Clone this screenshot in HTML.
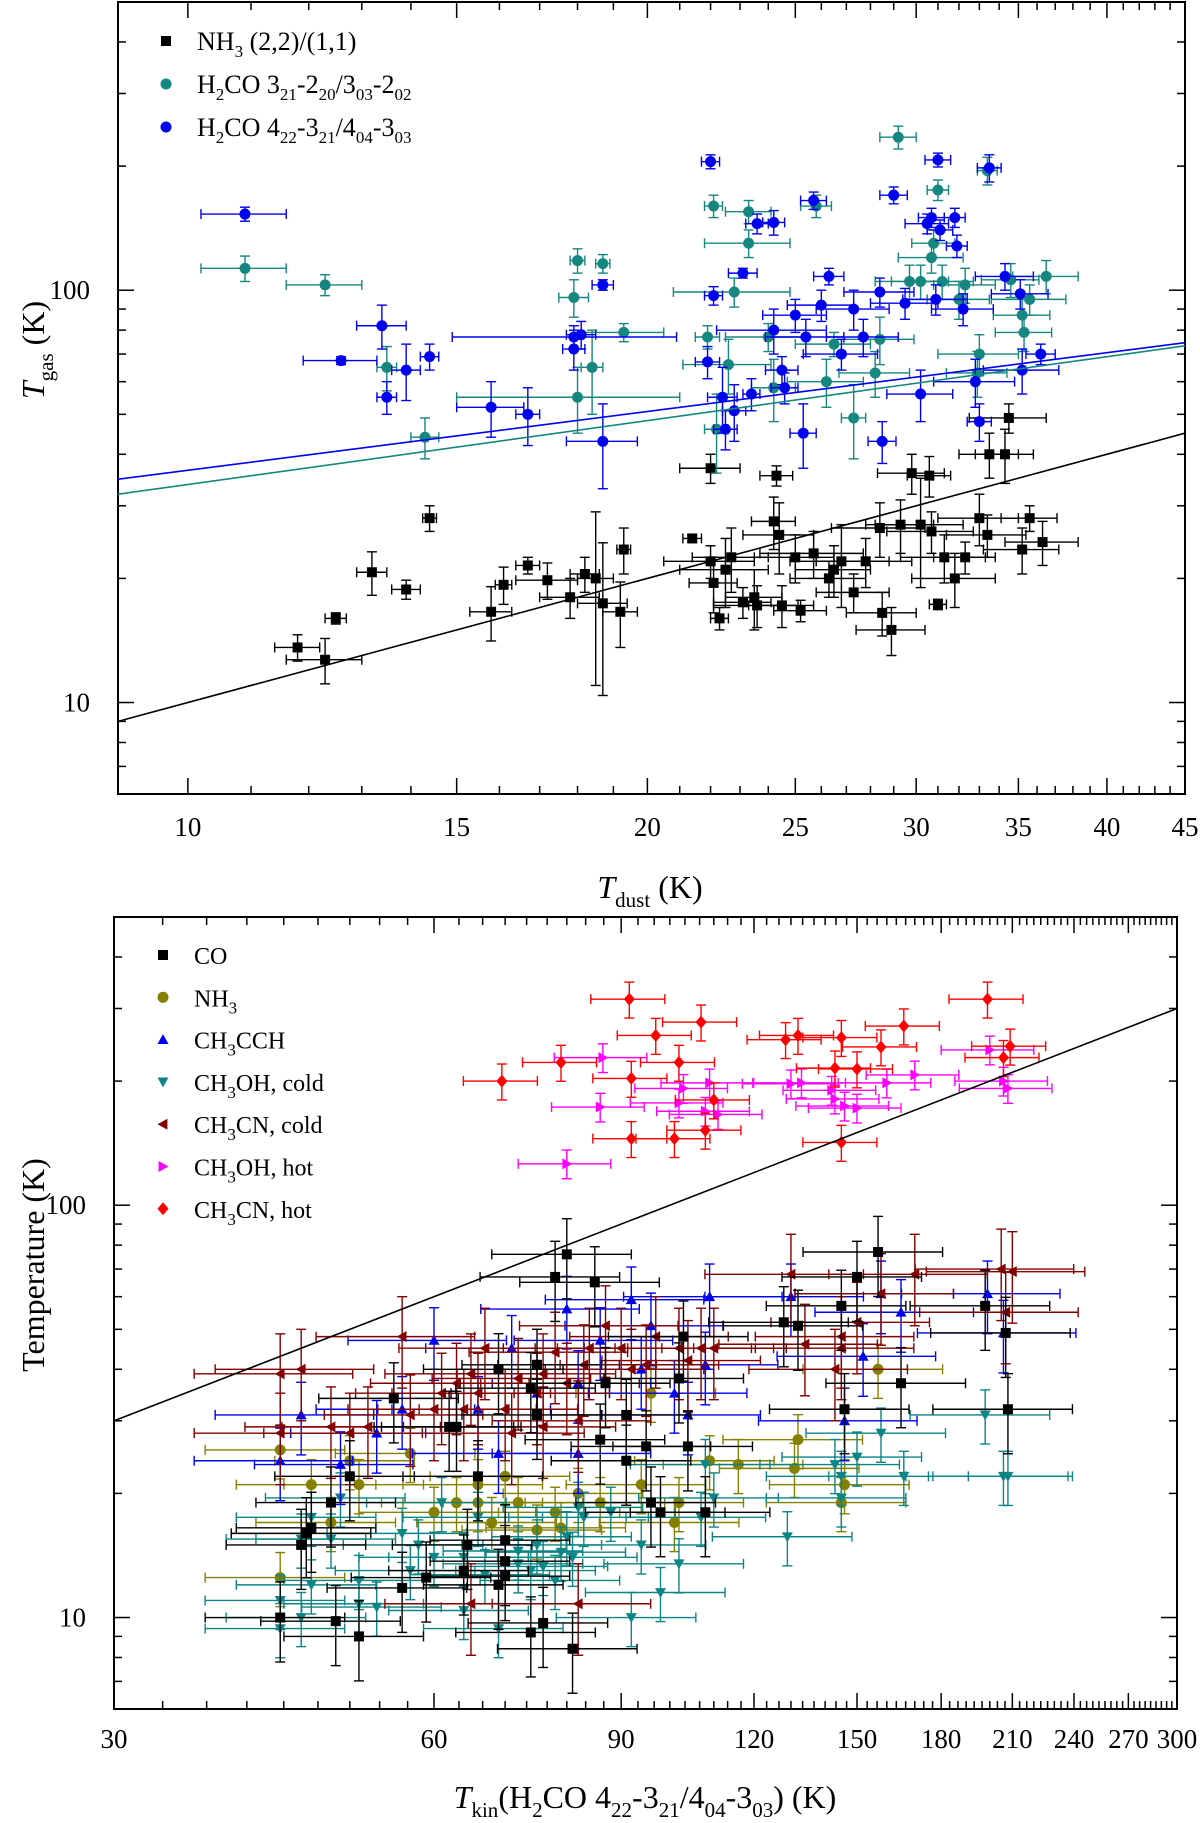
<!DOCTYPE html>
<html><head><meta charset="utf-8"><style>
html,body{margin:0;padding:0;background:#fff;}
svg{display:block;font-family:"Liberation Serif",serif;}
</style></head><body>
<svg id="fig" width="1200" height="1823" viewBox="0 0 1200 1823" xmlns="http://www.w3.org/2000/svg"></svg>
<script>
// ---------- TOP PANEL DATA: [Tdust, Tgas, xerr, yerr] ----------
const topNH3 = [[11.8,13.6,.4,1],[12.3,12.7,.7,1.6],[12.5,16,.2,.5],[13.2,20.7,.3,2.5],[13.9,18.8,.3,1],[14.4,28,.15,2],[15.8,16.6,.5,2.5],[16.1,19.3,.2,2],[16.7,21.5,.3,1],[17.2,19.8,.8,2],[17.8,18,.8,2],[18.2,20.5,.4,2],[18.5,20,.5,9],[18.7,17.4,.7,7],[19.2,16.6,.5,3],[19.3,23.5,.2,3],[21.4,25,.3,.5],[22.0,37,1,3],[22.0,22,1.5,2],[22.1,19.5,.8,3],[22.3,16,.3,1],[22.5,21,1.5,4],[22.7,22.5,1.3,4],[23.1,17.5,1,1.5],[23.5,18,1,3],[23.6,17.2,1.5,2],[24.3,35.5,.6,2],[24.2,27.5,.8,4],[24.4,25.5,1.3,5],[24.5,17.2,1.2,2],[25,22.5,1.5,3],[25.2,16.7,1,1],[25.7,23,2,3],[26.3,20,1.5,2],[26.5,21,1.5,3],[26.8,22,2,5],[27.3,18.5,1.5,2],[27.8,22,2,3],[28.4,26.5,2,4],[28.5,16.5,1.5,2],[28.9,15,1.5,2],[29.3,27,1.5,4],[29.8,36,1.5,4],[30.2,27,2,8],[30.6,35.5,1,4],[30.7,26,2,3],[31.0,17.3,.4,.5],[31.3,22.5,2,3],[31.8,20,2,3],[32.3,22.5,1.5,2],[33,28,2,4],[33.4,25.5,2,3],[33.5,40,1.5,5],[34.3,40,1.5,6],[34.5,49,2,4],[35.2,23.5,2,3],[35.6,28,1.5,2],[36.3,24.5,2,3]];
const topH2CO303 = [[10.9,113,.7,8],[12.3,103,.7,6],[13.5,65,.2,8],[14.3,44,.3,5],[17.9,96,.4,10],[18.0,118,.2,8],[18.7,116,.2,6],[18.0,55,3,10],[18.4,65,.3,15],[19.3,79,1.2,4],[21.9,77,.4,5],[22.1,160,.3,10],[22.2,46,.4,10],[22.6,66,1.5,10],[22.8,99,2,8],[23.3,155,.8,10],[23.3,130,1.5,10],[24.0,77,1.5,6],[24.2,58,.8,10],[25.8,160,.6,10],[26.2,60,1.5,8],[26.5,74,1.5,5],[27.3,49,.5,10],[28.2,63,1.5,8],[28.4,76,1.5,10],[29.2,235,.8,15],[29.7,105,1.5,10],[30.2,105,1.3,10],[30.7,120,1.5,10],[31.0,175,.5,10],[31.2,105,1.5,10],[32.0,95,1.5,10],[32.3,103,1.5,10],[32.9,63,1.5,8],[33.4,195,.5,15],[34.6,106,1.5,10],[35.2,87,1.5,8],[35.6,95,2,8],[35.3,79,1.5,8],[36.5,108,1.8,10],[33.0,70,2,8],[30.8,130,1,10]];
const topH2CO404 = [[10.9,153,.7,6],[12.6,67.5,.7,1.5],[13.4,82,.5,10],[13.5,55,.2,5],[13.9,64,.3,10],[14.4,69,.2,5],[15.8,52,.8,8],[16.7,50,.3,8],[17.9,72,.3,8],[17.9,77,3,5],[18.1,78,.4,6],[18.7,103,.3,3],[18.7,43,1,10],[21.9,67,.4,6],[22.1,97,.3,5],[22.0,205,.3,8],[22.4,55,.5,10],[22.5,46,.4,5],[22.8,51,.4,8],[23.1,110,.5,3],[23.4,56,.3,5],[23.6,145,.4,8],[24.2,146,.4,10],[24.2,80,2,10],[24.5,64,.6,5],[24.6,58,.5,5],[25,87,1.2,8],[25.3,45,.5,8],[25.4,77,1.5,8],[25.7,165,.5,8],[26.0,92,1.3,8],[26.3,108,.6,5],[26.8,70,1.5,6],[27.3,90,1.5,10],[27.7,77,1.5,8],[28.4,99,1.5,8],[28.5,43,.6,5],[29.0,170,.6,8],[29.5,93,1.5,8],[30.2,56,1.5,8],[30.7,150,.6,8],[30.9,95,1.5,8],[31.0,207,.6,8],[31.1,140,.6,8],[31.8,150,.5,8],[31.9,128,.5,8],[32.2,90,1.5,8],[32.8,60,2,8],[33.0,48,.6,5],[33.5,198,.6,15],[34.3,108,1.5,8],[35.1,98,1.5,8],[35.2,64,2,8],[36.2,70,.8,4],[30.5,145,1,8]];
const topFitX = [9, 45];
const topOneToOneY = [9, 45];
const topFit303Y = [32, 73.3];
const topFit404Y = [34.8, 74.6];
const topXTicks = [10,15,20,25,30,35,40,45];
const yTickLabels = [10,100];

// ---------- BOTTOM PANEL DATA: [Tkin(H2CO), T] ----------
const botCO = [[43,10],[48.5,9.8],[51,9],[45,15],[45.5,16],[46,16.5],[50,22],[48,19],[56,11.8],[59,12.5],[64,13],[64.5,15],[66,22],[69,12],[70,13.7],[70,15.4],[70,12.6],[74,9.2],[76,9.7],[81,8.4],[78,67],[80,76],[85,65],[87,37],[91,31],[95,26],[96,19],[98,18],[102,38],[103,48],[108,18],[69,40],[74,36],[75,41],[128,52],[132,51],[145,57],[146,32],[150,67],[157,77],[165,37],[198,57],[207,49],[208,32],[55,34],[62,29],[63,29],[75,31],[86,27],[91,24],[104,26]];
const botNH3 = [[43,25.5],[43,12.5],[46,21],[48,17],[50,24],[51,21],[57,25],[60,18],[63,19],[66,21],[66,19],[68,17],[70,22],[72,19],[75,16.3],[78,18],[79,16.5],[82,20],[86,19],[94,21],[96,35],[101,17],[102,19],[109,24],[131,23],[132,27],[145,19],[146,21],[157,40],[116,23.5]];
const botCH3CCH = [[43,24],[45,31],[49,23.5],[53,28],[56,32],[60,47],[66,32],[71,45],[75,35],[80,56],[82,37],[86,47],[92,59],[94,40],[96,51],[101,35],[104,31],[108,41],[109,60],[130,60],[146,30],[152,43],[158,61],[165,55],[199,61],[206,49],[82,25],[69,25]];
const botCH3OHcold = [[43,9.4],[43,11],[45,15.5],[45,10],[46,17.5],[48,15.5],[49,19.5],[51,10.8],[53,10.6],[56,16],[57,13],[58,15],[60,14],[64,14],[64,10.4],[66,17.5],[67,12.7],[69,9.4],[72,14.5],[72,13.5],[74,13],[75,15],[76,13.3],[78,12.3],[79,14.4],[80,15.7],[81,14],[82,18.5],[83,17.5],[88,18],[92,10],[94,15],[98,11.5],[102,13.5],[107,17.5],[108,23.5],[110,19.5],[129,15.7],[143,23.5],[145,22],[145,19.5],[150,24.5],[158,28],[166,22],[198,31],[206,22],[208,22],[61,19],[51,12.3],[46,12]];
const botCH3CNcold = [[43,39],[45,40],[43,28],[48,29],[50,28],[52,29],[56,48],[57,31],[60,32],[61,35],[63,37],[64,32],[65,39],[66,35],[67,45],[70,32],[71,28],[72,38],[75,35],[76,39],[76,29],[78,44],[80,37],[82,30],[83,41],[84,45],[87,51],[90,45],[92,40],[95,41],[97,48],[102,45],[104,42],[107,45],[110,45],[130,68],[134,46],[143,40],[145,48],[145,45],[150,52],[158,61],[170,68],[205,70],[207,55],[210,69],[65,10.8],[82,10.8]];
const botCH3OHhot = [[80,126],[86.5,228],[86,173],[102,177],[103,192],[108,169],[109,198],[111,166],[130,197],[133,198],[142,190],[143,181],[146,174],[150,172],[160,198],[170,207],[200,238],[206,200],[208,192]];
const botCH3CNhot = [[69.5,200],[79,222],[91.6,316],[92,203],[92,145],[97,258],[101,145],[102,222],[107,278],[108,152],[110,180],[128.5,252],[132,258],[145,255],[143,215],[150,214],[158,242],[166,272],[199,316],[206,228],[209,243],[145,142]];
// relative error half-widths per series [x, y]
const botErrCO = [0.15, 0.22];
const botErrNH3 = [0.15, 0.15];
const botErrCH3CCH = [0.17, 0.2];
const botErrCH3OHcold = [0.15, 0.15];
const botErrCH3CNcold = [0.17, 0.25];
const botErrCH3OHhot = [0.1, 0.08];
const botErrCH3CNhot = [0.08, 0.1];
const botFitX = [30, 300];
const botFitY = [30, 300];
const botXTicks = [30,60,90,120,150,180,210,240,270,300];

const NS = 'http://www.w3.org/2000/svg';
const svg = document.getElementById('fig');
function el(tag, attrs, parent){ const e = document.createElementNS(NS, tag); for (const k in attrs) e.setAttribute(k, attrs[k]); parent.appendChild(e); return e; }
const L = Math.log10;

function makeScale(d0, d1, r0, r1){ return v => r0 + (L(v) - L(d0)) / (L(d1) - L(d0)) * (r1 - r0); }

const panels = {
  top: {x0:118, x1:1185, y0:2, y1:794, sx: makeScale(9,45,118,1185), sy: makeScale(6,500,794,2)},
  bot: {x0:114, x1:1177, y0:917, y1:1709, sx: makeScale(30,300,114,1177), sy: makeScale(6,500,1709,917)}
};

function marker(g, shape, cx, cy, color){
  let m;
  const s = 5.5;
  if (shape === 'square') m = el('rect', {x:cx-s+0.5, y:cy-s+0.5, width:2*s-1, height:2*s-1, fill:color}, g);
  else if (shape === 'circle') m = el('circle', {cx:cx, cy:cy, r:5.5, fill:color}, g);
  else {
    let pts;
    if (shape === 'up') pts = [[cx,cy-s],[cx+s,cy+s*0.8],[cx-s,cy+s*0.8]];
    else if (shape === 'down') pts = [[cx,cy+s],[cx+s,cy-s*0.8],[cx-s,cy-s*0.8]];
    else if (shape === 'left') pts = [[cx-s,cy],[cx+s*0.8,cy-s],[cx+s*0.8,cy+s]];
    else if (shape === 'right') pts = [[cx+s,cy],[cx-s*0.8,cy-s],[cx-s*0.8,cy+s]];
    else pts = [[cx,cy-s-1],[cx+s,cy],[cx,cy+s+1],[cx-s,cy]];
    m = el('polygon', {points: pts.map(p => p.join(',')).join(' '), fill:color}, g);
  }
  return m;
}

function point(g, P, x, y, xlo, xhi, ylo, yhi, color, shape, name){
  const pg = el('g', {stroke:color, 'stroke-width':1.4, fill:'none'}, g);
  
  
  const cx = P.sx(x), cy = P.sy(y);
  const xa = P.sx(xlo), xb = P.sx(xhi), ya = P.sy(ylo), yb = P.sy(yhi);
  const c = 5;
  el('line', {x1:xa, y1:cy, x2:xb, y2:cy}, pg);
  el('line', {x1:xa, y1:cy-c, x2:xa, y2:cy+c}, pg);
  el('line', {x1:xb, y1:cy-c, x2:xb, y2:cy+c}, pg);
  el('line', {x1:cx, y1:ya, x2:cx, y2:yb}, pg);
  el('line', {x1:cx-c, y1:ya, x2:cx+c, y2:ya}, pg);
  el('line', {x1:cx-c, y1:yb, x2:cx+c, y2:yb}, pg);
  const m = marker(pg, shape, cx, cy, color);
  m.setAttribute('stroke', 'none');
}

function clipFor(id, P){
  const defs = el('defs', {}, svg);
  const cp = el('clipPath', {id:id}, defs);
  el('rect', {x:P.x0, y:P.y0, width:P.x1-P.x0, height:P.y1-P.y0}, cp);
}
clipFor('clipTop', panels.top);
clipFor('clipBot', panels.bot);

function axes(P, key, xMajor, xMinor, xLabels, labelY){
  const g = el('g', {stroke:'#000', 'stroke-width':1.5, fill:'none'}, svg);
  
  
  // x ticks
  xMinor.forEach(v => { const x = P.sx(v);
    el('line', {x1:x, y1:P.y1, x2:x, y2:P.y1-8}, g);
    el('line', {x1:x, y1:P.y0, x2:x, y2:P.y0+8}, g); });
  xMajor.forEach(v => { const x = P.sx(v);
    el('line', {x1:x, y1:P.y1, x2:x, y2:P.y1-16}, g);
    el('line', {x1:x, y1:P.y0, x2:x, y2:P.y0+16}, g); });
  // y ticks
  const yMinor = [6,7,8,9,20,30,40,50,60,70,80,90,200,300,400,500];
  yMinor.forEach(v => { const y = P.sy(v);
    el('line', {x1:P.x0, y1:y, x2:P.x0+8, y2:y}, g);
    el('line', {x1:P.x1, y1:y, x2:P.x1-8, y2:y}, g); });
  yTickLabels.forEach(v => { const y = P.sy(v);
    el('line', {x1:P.x0, y1:y, x2:P.x0+16, y2:y}, g);
    el('line', {x1:P.x1, y1:y, x2:P.x1-16, y2:y}, g); });
  const fr = el('rect', {x:P.x0, y:P.y0, width:P.x1-P.x0, height:P.y1-P.y0, 'stroke-width':2}, g);
  
  
  xLabels.forEach(v => {
    const t = el('text', {x:P.sx(v), y:labelY, 'text-anchor':'middle', 'font-size':27, fill:'#000'}, svg);
    
    
    t.textContent = v;
  });
  yTickLabels.forEach(v => {
    const t = el('text', {x:P.x0-28, y:P.sy(v)+9, 'text-anchor':'end', 'font-size':27, fill:'#000'}, svg);
    
    
    t.textContent = v;
  });
}

const topMinor = []; for (let v = 9; v <= 45; v++) if (topXTicks.indexOf(v) < 0) topMinor.push(v);
axes(panels.top, 'top', topXTicks, topMinor, topXTicks, 836);
const botMinor = []; for (let i = 0; i <= 81; i++){ const v = 30 + i*10/3; if (i % 9 !== 0) botMinor.push(v); }
axes(panels.bot, 'bottom', botXTicks, botMinor, botXTicks, 1748);

// ---------- TOP DATA ----------
const gTop = el('g', {'clip-path':'url(#clipTop)'}, svg);


function fitLine(g, P, xs, ys, color, name){
  const ln = el('line', {x1:P.sx(xs[0]), y1:P.sy(ys[0]), x2:P.sx(xs[1]), y2:P.sy(ys[1]), stroke:color, 'stroke-width':1.6}, g);
  
  
}
const cTeal = '#16877f', cBlue = '#0000f0';
topNH3.forEach(d => point(gTop, panels.top, d[0], d[1], d[0]-d[2], d[0]+d[2], d[1]-d[3], d[1]+d[3], '#000', 'square', 'nh3-point'));
topH2CO303.forEach(d => point(gTop, panels.top, d[0], d[1], d[0]-d[2], d[0]+d[2], d[1]-d[3], d[1]+d[3], cTeal, 'circle', 'h2co-303-point'));
topH2CO404.forEach(d => point(gTop, panels.top, d[0], d[1], d[0]-d[2], d[0]+d[2], d[1]-d[3], d[1]+d[3], cBlue, 'circle', 'h2co-404-point'));
fitLine(gTop, panels.top, topFitX, topOneToOneY, '#000', 'one-to-one-line');
fitLine(gTop, panels.top, topFitX, topFit303Y, cTeal, 'h2co-303-fit-line');
fitLine(gTop, panels.top, topFitX, topFit404Y, cBlue, 'h2co-404-fit-line');

// ---------- BOTTOM DATA ----------
const gBot = el('g', {'clip-path':'url(#clipBot)'}, svg);


function series(arr, err, color, shape, name){
  arr.forEach(d => point(gBot, panels.bot, d[0], d[1], d[0]*(1-err[0]), d[0]*(1+err[0]), d[1]*(1-err[1]), d[1]*(1+err[1]), color, shape, name));
}
series(botNH3, botErrNH3, '#858000', 'circle', 'nh3-point');
series(botCH3OHcold, botErrCH3OHcold, '#0b8585', 'down', 'ch3oh-cold-point');
series(botCH3CCH, botErrCH3CCH, '#0000f0', 'up', 'ch3cch-point');
series(botCH3CNcold, botErrCH3CNcold, '#820000', 'left', 'ch3cn-cold-point');
series(botCO, botErrCO, '#000', 'square', 'co-point');
series(botCH3OHhot, botErrCH3OHhot, '#ff00ff', 'right', 'ch3oh-hot-point');
series(botCH3CNhot, botErrCH3CNhot, '#ff0000', 'diamond', 'ch3cn-hot-point');
fitLine(gBot, panels.bot, botFitX, botFitY, '#000', 'one-to-one-line');

// ---------- LEGENDS ----------
function legendRow(x, y, color, shape, html, name, fs){
  const g = el('g', {}, svg);
  
  
  marker(g, shape, x, y, color);
  const t = el('text', {x:x+31, y:y+9, 'font-size':fs, fill:'#000'}, g);
  t.innerHTML = html;
}
const sub = s => '<tspan dy="7" font-size="17">' + s + '</tspan><tspan dy="-7">';
legendRow(166, 41, '#000', 'square', 'NH' + sub('3') + ' (2,2)/(1,1)</tspan>', 'legend-nh3', 26);
legendRow(166, 84, cTeal, 'circle', 'H' + sub('2') + 'CO 3</tspan>' + sub('21') + '-2</tspan>' + sub('20') + '/3</tspan>' + sub('03') + '-2</tspan>' + sub('02') + '</tspan>', 'legend-h2co-303', 26);
legendRow(166, 127, cBlue, 'circle', 'H' + sub('2') + 'CO 4</tspan>' + sub('22') + '-3</tspan>' + sub('21') + '/4</tspan>' + sub('04') + '-3</tspan>' + sub('03') + '</tspan>', 'legend-h2co-404', 26);

const legB = [
  ['#000','square','CO','legend-co'],
  ['#858000','circle','NH' + sub('3') + '</tspan>','legend-nh3'],
  ['#0000f0','up','CH' + sub('3') + 'CCH</tspan>','legend-ch3cch'],
  ['#0b8585','down','CH' + sub('3') + 'OH, cold</tspan>','legend-ch3oh-cold'],
  ['#820000','left','CH' + sub('3') + 'CN, cold</tspan>','legend-ch3cn-cold'],
  ['#ff00ff','right','CH' + sub('3') + 'OH, hot</tspan>','legend-ch3oh-hot'],
  ['#ff0000','diamond','CH' + sub('3') + 'CN, hot</tspan>','legend-ch3cn-hot']
];
legB.forEach((r, i) => legendRow(163, 955 + i*42.3, r[0], r[1], r[2], r[3], 24));

// ---------- AXIS TITLES ----------
function title(x, y, rot, html, name){
  const t = el('text', {x:x, y:y, 'text-anchor':'middle', 'font-size':32, fill:'#000'}, svg);
  if (rot) t.setAttribute('transform', 'rotate(-90 ' + x + ' ' + y + ')');
  
  
  t.innerHTML = html;
}
const sub2 = s => '<tspan dy="9" font-size="21">' + s + '</tspan><tspan dy="-9">';
title(650, 898, false, '<tspan font-style="italic">T</tspan>' + sub2('dust') + ' (K)</tspan>', 'top-x-axis-title');
title(44, 350, true, '<tspan font-style="italic">T</tspan>' + sub2('gas') + ' (K)</tspan>', 'top-y-axis-title');
title(44, 1265, true, 'Temperature (K)', 'bottom-y-axis-title');
title(645, 1808, false, '<tspan font-style="italic">T</tspan>' + sub2('kin') + '(H' + sub2('2') + 'CO 4</tspan>' + sub2('22') + '-3</tspan>' + sub2('21') + '/4</tspan>' + sub2('04') + '-3</tspan>' + sub2('03') + ') (K)</tspan>', 'bottom-x-axis-title');
</script>
</body></html>
